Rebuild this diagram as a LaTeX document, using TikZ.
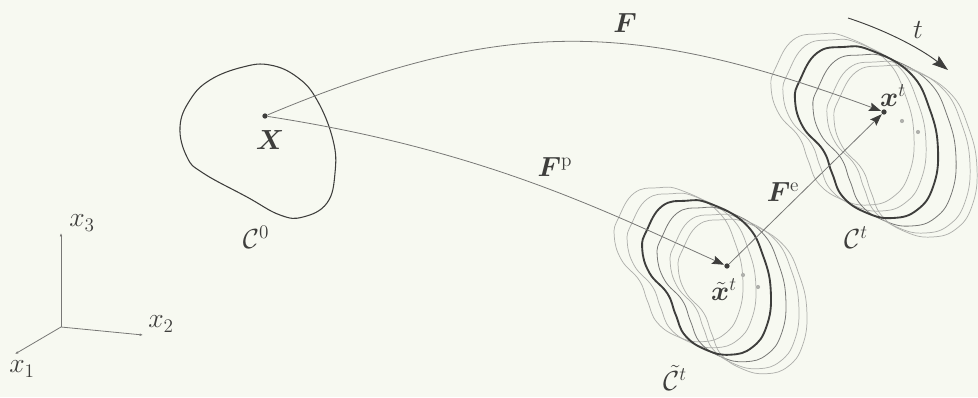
\documentclass[tikz,border=0pt]{standalone}
\usepackage{amsmath}
\usepackage{bm}
\usetikzlibrary{arrows.meta}

\definecolor{paper}{RGB}{247,249,241}
\definecolor{ink}{RGB}{62,62,60}
\definecolor{pencil}{RGB}{120,120,118}
\definecolor{ghost}{RGB}{175,176,172}

\newcommand{\blobshape}{plot [smooth cycle, tension=0.75] coordinates {(3,-85) (43,-62) (63,-25) (71,15) (66,52) (50,75) (26,83) (0,78) (-24,62) (-35,38) (-44,15) (-64,-8) (-72,-35) (-67,-55) (-50,-82) (-24,-88)}}

\tikzset{every picture/.style={line width=0.75pt}}
\tikzset{
  boldblob/.style={color=ink, line width=1.4pt},
  ghostblob/.style={color=ghost, line width=0.55pt},
  midblob/.style={color=pencil, line width=0.6pt},
  flow/.style={color=pencil, line width=0.6pt, -{Stealth[length=9pt,width=6.5pt,inset=1.5pt,color=ink]}},
  axis/.style={color=pencil, line width=0.6pt, -{Latex[length=2.5pt,width=2pt]}},
  dot/.style={circle, fill=ink, inner sep=1.4pt},
  graydot/.style={circle, fill=ghost, inner sep=1.1pt},
  lbl/.style={inner sep=0.75pt, text=ink, font=\fontsize{20}{24}\selectfont}
}

\begin{document}
\begin{tikzpicture}[x=0.75pt,y=0.75pt,yscale=-1,xscale=1]
\fill [paper] (0,0) rectangle (978,397);
\useasboundingbox (0,0) rectangle (978,397);

%Shapes: reference body
\draw [color=ink, line width=0.8pt] plot [smooth cycle, tension=0.7] coordinates {(243,67) (270,65) (297,77) (317,100) (333,140) (335,173) (327,203) (303,217) (280,215) (247,197) (203,173) (187,157) (180,127) (190,100) (210,80)};

%Shapes: intermediate body and its neighbours in time
\draw [ghostblob, shift={(679,267)}, scale=0.9] \blobshape;
\draw [ghostblob, shift={(692,273)}, scale=0.9] \blobshape;
\draw [midblob, shift={(722,287)}, scale=0.9] \blobshape;
\draw [ghostblob, shift={(735,294)}, scale=0.9] \blobshape;
\draw [ghostblob, shift={(743,299)}, scale=0.9] \blobshape;
\draw [boldblob, shift={(707,280)}, scale=0.9] \blobshape;

%Shapes: current body and its neighbours in time
\draw [ghostblob, shift={(843,122)}] \blobshape;
\draw [ghostblob, shift={(855,128)}] \blobshape;
\draw [midblob, shift={(885,143)}] \blobshape;
\draw [ghostblob, shift={(899,150)}] \blobshape;
\draw [ghostblob, shift={(906,154)}] \blobshape;
\draw [boldblob, shift={(867,135)}] \blobshape;

%Points
\node (X) [dot] at (265,116) {};
\node (xtil) [dot] at (727,266) {};
\node (xt) [dot] at (884,112) {};
\node (gd1) [graydot] at (743,275) {};
\node (gd2) [graydot] at (758,287) {};
\node (gd3) [graydot] at (902,121) {};
\node (gd4) [graydot] at (918,132) {};

%Curve Lines: total, plastic and elastic maps
\draw [flow] (X) .. controls (508,14) and (640,22) .. (xt);
\draw [flow] (X) .. controls (485,150) and (607,212) .. (xtil);
\draw [flow] (xtil) -- (xt);

%Curve Lines: time direction
\coordinate (tA) at (848,18);
\coordinate (tB) at (948,70);
\draw [color=ink, line width=0.7pt, -{Stealth[length=12pt,width=8pt,inset=2pt]}] (tA) .. controls (885,30) and (920,48) .. (tB);

%Straight Lines: axes
\coordinate (O) at (61,327);
\coordinate (e1) at (15,354);
\coordinate (e2) at (143,335);
\coordinate (e3) at (61,233);
\draw [axis] (O) -- (e1);
\draw [axis] (O) -- (e2);
\draw [axis] (O) -- (e3);

% Text Node
\draw (270,140) node (lX) [lbl] {$\bm{X}$};
% Text Node
\draw (256,237) node (lC0) [lbl] {$\mathcal{C}^{0}$};
% Text Node
\draw (625,23) node (lF) [lbl] {$\bm{F}$};
% Text Node
\draw (555,167) node (lFp) [lbl] {$\bm{F}^{\mathrm{p}}$};
% Text Node
\draw (783,192) node (lFe) [lbl] {$\bm{F}^{\mathrm{e}}$};
% Text Node
\draw (724,290) node (lxtil) [lbl] {$\tilde{\bm{x}}^{t}$};
% Text Node
\draw (893,96) node (lxt) [lbl] {$\bm{x}^{t}$};
% Text Node
\draw (856,238) node (lCt) [lbl] {$\mathcal{C}^{t}$};
% Text Node
\draw (675,378) node (lCtil) [lbl] {$\tilde{\mathcal{C}}^{t}$};
% Text Node
\draw (918,30) node (lt) [lbl] {$t$};
% Text Node
\draw (82,223) node (lx3) [lbl] {$x_{3}$};
% Text Node
\draw (161,324) node (lx2) [lbl] {$x_{2}$};
% Text Node
\draw (22,369) node (lx1) [lbl] {$x_{1}$};

\end{tikzpicture}
\end{document}
